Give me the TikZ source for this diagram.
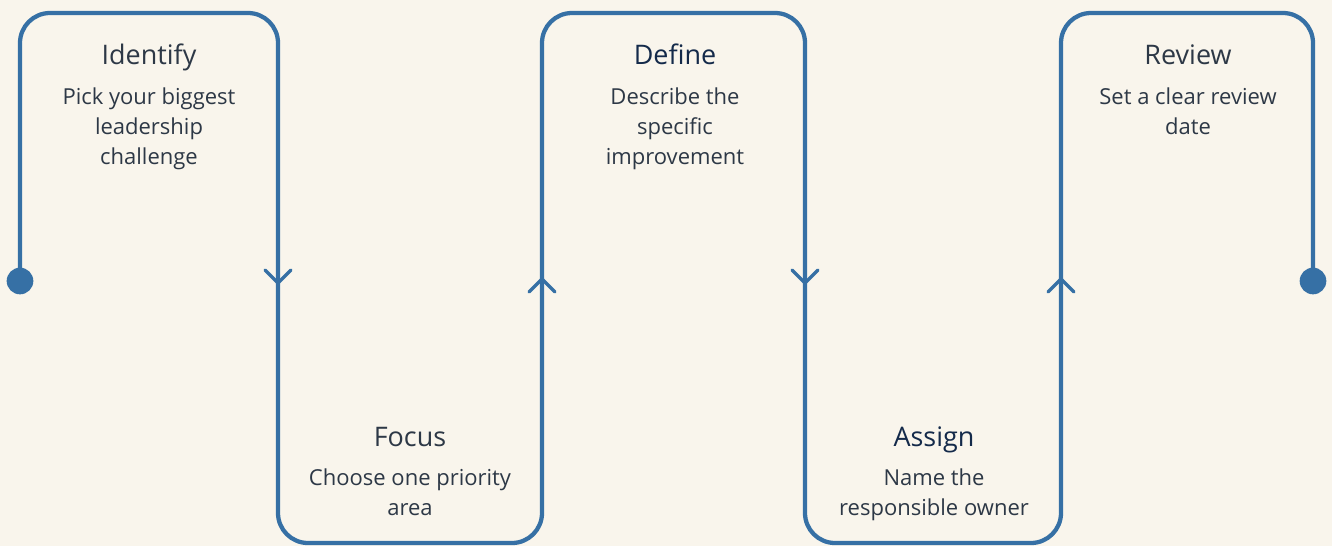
\documentclass[tikz,border=0pt]{standalone}
\usepackage{fontspec}
\setmainfont{Open Sans}
\usepackage{tikz}
\definecolor{creme}{RGB}{249,245,236}
\definecolor{trackblue}{RGB}{54,112,165}
\definecolor{slate}{RGB}{45,56,70}
\definecolor{navy}{RGB}{20,42,74}
\tikzset{
  track/.style={trackblue, line width=3.2pt, rounded corners=22.5pt},
  chevron/.style={trackblue, line width=2.6pt, line cap=round, line join=round},
  title/.style={anchor=base, inner sep=0pt, font=\fontsize{20.2}{24}\selectfont},
  body/.style={anchor=north, inner sep=0pt, align=center, slate,
    font=\fontsize{16.5}{22.5}\selectfont}
}
\begin{document}
\begin{tikzpicture}[x=0.75pt, y=-0.75pt]
\fill [creme] (0,0) rectangle (1332,546);
\useasboundingbox (0,0) rectangle (1332,546);
% corners of the track
\coordinate (start) at (20,281);
\coordinate (c1) at (20,13);
\coordinate (c2) at (278,13);
\coordinate (c3) at (278,543);
\coordinate (c4) at (542,543);
\coordinate (c5) at (542,13);
\coordinate (c6) at (805,13);
\coordinate (c7) at (805,543);
\coordinate (c8) at (1061,543);
\coordinate (c9) at (1061,13);
\coordinate (c10) at (1313,13);
\coordinate (end) at (1313,281);
\draw [track] (start) -- (c1) -- (c2) -- (c3) -- (c4) -- (c5) -- (c6)
  -- (c7) -- (c8) -- (c9) -- (c10) -- (end);
\fill [trackblue] (start) circle (10pt);
\fill [trackblue] (end) circle (10pt);
% direction marks
\foreach \xx/\dd in {278/1, 542/-1, 805/1, 1061/-1}
  \draw [chevron] (\xx-13,281-\dd*11) -- (\xx,281+\dd*2) -- (\xx+13,281-\dd*11);
% steps
\node [title, slate] (identify) at (149,64) {Identify};
\node [body] (identifytxt) at (149,88) {Pick your biggest\\leadership\\challenge};
\node [title, slate] (focus) at (410,446) {Focus};
\node [body] (focustxt) at (410,469) {Choose one priority\\area};
\node [title, navy] (define) at (675,64) {Define};
\node [body] (definetxt) at (675,88) {Describe the\\specific\\improvement};
\node [title, navy] (assign) at (934,446) {Assign};
\node [body] (assigntxt) at (934,469) {Name the\\responsible owner};
\node [title, slate] (review) at (1188,64) {Review};
\node [body] (reviewtxt) at (1188,88) {Set a clear review\\date};
\end{tikzpicture}
\end{document}
